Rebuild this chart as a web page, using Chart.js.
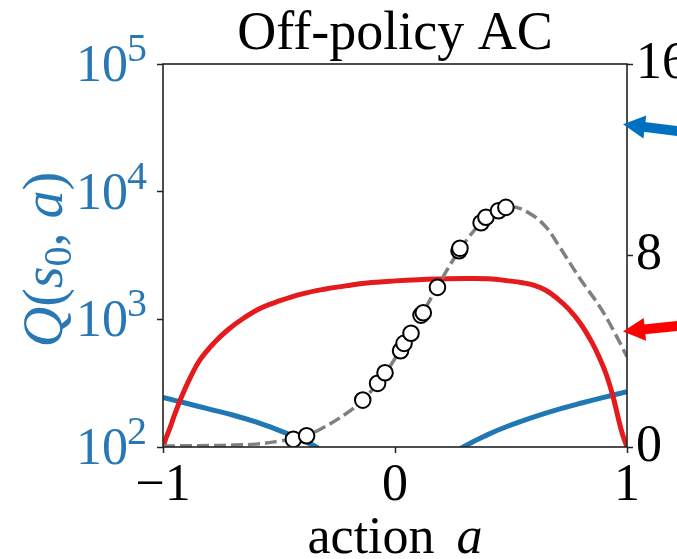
<!DOCTYPE html>
<html><head><meta charset="utf-8">
<script src="https://cdn.jsdelivr.net/npm/chart.js@4.4.1/dist/chart.umd.min.js"></script>
<style>html,body{margin:0;padding:0;background:#fff;overflow:hidden}</style>
</head><body>
<canvas id="c" width="677" height="559" style="width:677px;height:559px;display:block"></canvas>
<script>
// ---------- data ----------
const titleText = 'Off-policy AC';
const xTickValues = [-1, 0, 1];
const xTickLabels = ['\u22121', '0', '1'];
const qTickExponents = [2, 3, 4, 5];
const densityTickValues = [0, 8, 16];
const densityTickLabels = ['0', '8', '16'];

// Q(s0,a) on log axis (null = gap where the curve dips far below 10^2)
const qActions = [-1, -0.9, -0.8, -0.7, -0.6, -0.5, -0.44, -0.38, -0.34, -0.25, null, 0.2, 0.295, 0.4, 0.48, 0.6, 0.7, 0.8, 0.9, 1.0];
const qValues  = [245, 220, 198, 178, 157, 135, 122, 109, 100, 78, null, 76, 100, 125, 144, 172, 196, 220, 245, 271];

// policy density (right axis)
const policyActions = [-1, -0.99, -0.97, -0.95, -0.92, -0.88, -0.84, -0.78, -0.72, -0.65, -0.58, -0.5, -0.4, -0.3, -0.2, -0.1, 0, 0.1, 0.2, 0.3, 0.4, 0.5, 0.55, 0.6, 0.65, 0.7, 0.75, 0.8, 0.85, 0.88, 0.91, 0.94, 0.96, 0.98, 1.0];
const policyDensity = [0, 0.3, 0.8, 1.35, 2.1, 2.95, 3.65, 4.35, 4.9, 5.4, 5.8, 6.1, 6.4, 6.6, 6.75, 6.87, 6.94, 6.99, 7.02, 7.04, 7.03, 6.93, 6.86, 6.75, 6.55, 6.2, 5.75, 5.15, 4.35, 3.75, 3.05, 2.1, 1.3, 0.55, 0];

// target curve (dashed, right axis)
const targetActions = [-1, -0.9, -0.8, -0.7, -0.6, -0.5, -0.44, -0.38, -0.32, -0.21, -0.14, -0.075, -0.04, 0.02, 0.07, 0.12, 0.18, 0.28, 0.37, 0.44, 0.5, 0.58, 0.65, 0.7, 0.8, 0.88, 0.94, 1.0];
const targetValues  = [0.04, 0.05, 0.06, 0.08, 0.12, 0.24, 0.34, 0.5, 0.75, 1.4, 1.95, 2.65, 3.1, 4.0, 4.75, 5.6, 6.65, 8.25, 9.35, 9.85, 10.05, 9.76, 9.2, 8.5, 7.0, 5.9, 4.9, 3.77];

// sampled actions (circles, right axis)
const sampleActions = [-0.438, -0.381, -0.139, -0.075, -0.043, 0.024, 0.039, 0.069, 0.112, 0.122, 0.183, 0.276, 0.280, 0.371, 0.392, 0.446, 0.478];
const sampleValues  = [0.32, 0.47, 1.96, 2.66, 3.10, 4.02, 4.33, 4.75, 5.51, 5.61, 6.67, 8.20, 8.30, 9.37, 9.60, 9.87, 10.01];

// arrow annotations pointing at the right axis (right-axis values)
const arrowValues = [13.48, 4.82];
const arrowColors = ['#0070c0', '#ff0000'];
const arrowAnglesDeg = [7, -6];

// ---------- chart ----------
const SERIF = '"Liberation Serif", "DejaVu Serif", serif';
const BLUE_TXT = '#2878b5';
const AXIS = '#222222';
const zip = (xs, ys) => xs.map((x, i) => ({ x: x, y: ys[i] }));

const decorPlugin = {
  id: 'decor',
  afterDatasetsDraw(chart) {
    const { ctx, chartArea: a } = chart;
    ctx.save();
    ctx.strokeStyle = AXIS;
    ctx.lineWidth = 1.6;
    ctx.strokeRect(a.left, a.top, a.right - a.left, a.bottom - a.top);
    ctx.restore();
  },
  afterDraw(chart) {
    const { ctx, chartArea: a, scales } = chart;
    const yQ = scales.yQ, y2 = scales.y2, x = scales.x;
    ctx.save();
    // left log tick labels 10^n
    ctx.fillStyle = BLUE_TXT;
    ctx.textBaseline = 'alphabetic';
    ctx.textAlign = 'right';
    qTickExponents.forEach(e => {
      const py = yQ.getPixelForValue(Math.pow(10, e));
      const right = a.left - 16;
      ctx.font = '40px ' + SERIF;
      const sw = ctx.measureText(String(e)).width;
      ctx.fillText(String(e), right, py - 3);
      ctx.font = '52px ' + SERIF;
      ctx.fillText('10', right - sw + 1, py + 17);
    });
    // y title Q(s0, a), rotated
    const pieces = [
      { t: 'Q', f: 'italic 56px ' + SERIF, dy: 0 },
      { t: '(', f: '56px ' + SERIF, dy: 0 },
      { t: 's', f: 'italic 56px ' + SERIF, dy: 0 },
      { t: '0', f: '40px ' + SERIF, dy: 9 },
      { t: ',', f: '56px ' + SERIF, dy: 0 },
      { t: ' ', f: '56px ' + SERIF, dy: 0 },
      { t: 'a', f: 'italic 56px ' + SERIF, dy: 0 },
      { t: ')', f: '56px ' + SERIF, dy: 0 }
    ];
    let total = 0;
    pieces.forEach(p => { ctx.font = p.f; p.w = ctx.measureText(p.t).width; total += p.w; });
    ctx.save();
    ctx.translate(62, (a.top + a.bottom) / 2 + 4);
    ctx.rotate(-Math.PI / 2);
    ctx.textAlign = 'left';
    let cx = -total / 2;
    pieces.forEach(p => { ctx.font = p.f; ctx.fillText(p.t, cx, p.dy); cx += p.w; });
    ctx.restore();
    // x title "action a"
    ctx.fillStyle = '#000';
    ctx.textAlign = 'left';
    ctx.font = '52px ' + SERIF;
    const w1 = ctx.measureText('action').width;
    ctx.font = 'italic 52px ' + SERIF;
    const w2 = ctx.measureText('a').width;
    const gap = 22;
    const sx = (a.left + a.right) / 2 - (w1 + gap + w2) / 2;
    ctx.font = '52px ' + SERIF;
    ctx.fillText('action', sx, 553);
    ctx.font = 'italic 52px ' + SERIF;
    ctx.fillText('a', sx + w1 + gap, 553);
    // arrows
    arrowValues.forEach((v, i) => {
      const tx = x.getPixelForValue(1) - 4;
      const ty = y2.getPixelForValue(v);
      const ang = arrowAnglesDeg[i] * Math.PI / 180;
      const ux = Math.cos(ang), uy = Math.sin(ang);
      const headLen = 22, headHalf = 11.5, shaftW = 10;
      const bx = tx + ux * headLen, by = ty + uy * headLen;
      ctx.strokeStyle = arrowColors[i];
      ctx.fillStyle = arrowColors[i];
      ctx.lineWidth = shaftW;
      ctx.beginPath();
      ctx.moveTo(bx - ux * 3, by - uy * 3);
      ctx.lineTo(tx + ux * 120, ty + uy * 120);
      ctx.stroke();
      ctx.beginPath();
      ctx.moveTo(tx, ty);
      ctx.lineTo(bx - uy * headHalf, by + ux * headHalf);
      ctx.lineTo(bx + uy * headHalf, by - ux * headHalf);
      ctx.closePath();
      ctx.fill();
    });
    ctx.restore();
  }
};

const tickGrid = { drawOnChartArea: false, drawTicks: true, tickLength: 6, tickWidth: 1.5, tickColor: AXIS };

new Chart(document.getElementById('c'), {
  type: 'line',
  data: {
    datasets: [
      { label: 'samples', data: zip(sampleActions, sampleValues), yAxisID: 'y2', showLine: false,
        pointRadius: 7.8, pointBackgroundColor: '#ffffff', pointBorderColor: '#000000', pointBorderWidth: 2, order: 0 },
      { label: 'target', data: zip(targetActions, targetValues), yAxisID: 'y2', borderColor: '#808080',
        borderWidth: 3.5, borderDash: [12, 5], pointRadius: 0, tension: 0.4, fill: false, order: 1 },
      { label: 'policy', data: zip(policyActions, policyDensity), yAxisID: 'y2', borderColor: '#e41a1c',
        borderWidth: 5, pointRadius: 0, tension: 0.4, fill: false, order: 2 },
      { label: 'Q', data: zip(qActions, qValues), yAxisID: 'yQ', borderColor: '#1f77b4',
        borderWidth: 5, pointRadius: 0, spanGaps: false, tension: 0.4, fill: false, order: 3 }
    ]
  },
  options: {
    responsive: false,
    animation: false,
    events: [],
    layout: { padding: 0 },
    plugins: {
      legend: { display: false },
      tooltip: { enabled: false },
      title: {
        display: true, text: titleText, color: '#000', fullSize: false,
        font: { family: SERIF, size: 54, weight: 'normal', lineHeight: 1 },
        padding: { top: 8, bottom: 2 }
      }
    },
    scales: {
      x: {
        type: 'linear', min: -1, max: 1, position: 'bottom',
        afterFit: s => { s.height = 112; },
        afterBuildTicks: s => { s.ticks = xTickValues.map(v => ({ value: v })); },
        ticks: { color: '#000', padding: 2, maxRotation: 0, font: { family: SERIF, size: 52 },
          callback: v => xTickLabels[xTickValues.indexOf(v)] },
        grid: tickGrid,
        border: { display: false }
      },
      yQ: {
        type: 'logarithmic', min: 100, max: 100000, position: 'left',
        afterFit: s => { s.width = 163; },
        afterBuildTicks: s => { s.ticks = qTickExponents.map(e => ({ value: Math.pow(10, e) })); },
        ticks: { display: false },
        grid: tickGrid,
        border: { display: false }
      },
      y2: {
        type: 'linear', min: 0, max: 16, position: 'right',
        afterFit: s => { s.width = 50; },
        afterBuildTicks: s => { s.ticks = densityTickValues.map(v => ({ value: v })); },
        ticks: { color: '#000', padding: 3, font: { family: SERIF, size: 52 },
          callback: v => densityTickLabels[densityTickValues.indexOf(v)] },
        grid: tickGrid,
        border: { display: false }
      }
    }
  },
  plugins: [decorPlugin]
});
</script>
</body></html>
